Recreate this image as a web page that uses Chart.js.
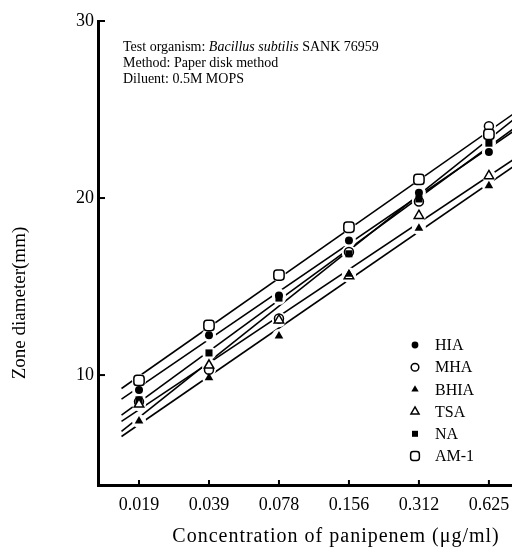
<!DOCTYPE html>
<html><head><meta charset="utf-8">
<script src="https://cdn.jsdelivr.net/npm/chart.js@4.4.1/dist/chart.umd.min.js"></script>
<style>html,body{margin:0;padding:0;background:#fff;overflow:hidden;}#wrap{width:512px;height:554px;position:relative;overflow:hidden;}canvas{display:block;}</style>
</head><body><div id="wrap"><canvas id="c"></canvas></div>
<script>
// ---- data ----
const concentrations = ['0.019', '0.039', '0.078', '0.156', '0.312', '0.625'];
const seriesNames = ['HIA', 'MHA', 'BHIA', 'TSA', 'NA', 'AM-1'];
const hia  = [9.15, 12.25, 14.5, 17.6, 20.3, 22.6];
const mha  = [8.5, 10.3, 13.2, 16.95, 19.8, 24.05];
const bhia = [7.4, 9.85, 12.2, 15.7, 18.3, 20.7];
const tsa  = [8.35, 10.55, 13.1, 15.6, 19.0, 21.25];
const na   = [8.6, 11.25, 14.35, 16.85, 19.95, 23.1];
const am1  = [9.7, 12.8, 15.65, 18.35, 21.05, 23.6];
// fitted lines: x position (in dilution steps) and values at both ends
const fitX    = [-0.25, 5.4];
const fitHIA  = [8.64, 23.90];
const fitMHA  = [6.82, 24.58];
const fitBHIA = [6.53, 21.92];
const fitTSA  = [7.38, 22.30];
const fitNA   = [7.74, 24.06];
const fitAM1  = [9.24, 24.89];
const yTicks = [10, 20, 30];

const seriesValues = [hia, mha, bhia, tsa, na, am1];
const fitValues = [fitHIA, fitMHA, fitBHIA, fitTSA, fitNA, fitAM1];
const styles = [
  {pointStyle:'circle', radius:4, fill:'#000', bw:0},
  {pointStyle:'circle', radius:4.5, fill:'#fff', bw:1.5},
  {pointStyle:'triangle', radius:5, fill:'#000', bw:0},
  {pointStyle:'triangle', radius:5.5, fill:'#fff', bw:1.5},
  {pointStyle:'rect', radius:5, fill:'#000', bw:0},
  {pointStyle:'rectRounded', radius:6, fill:'#fff', bw:1.5}
];

const datasets = [];
seriesValues.forEach((vals, s) => {
  const st = styles[s];
  const pts = vals.map((v, i) => ({x: i, y: v}));
  datasets.push({label: seriesNames[s], data: pts, showLine:false,
    pointStyle: st.pointStyle, pointRadius: st.radius, pointHoverRadius: st.radius,
    pointBackgroundColor: st.fill, pointBorderColor:'#000', pointBorderWidth: st.bw,
    order: s === 1 ? 1.5 : 1});
  datasets.push({label: seriesNames[s] + ' gap', data: pts, showLine:false,
    pointStyle:'circle', pointRadius: 7, pointBackgroundColor:'#fff', pointBorderWidth:0,
    order: 2});
  datasets.push({label: seriesNames[s] + ' fit', data: fitX.map((x, i) => ({x: x, y: fitValues[s][i]})),
    showLine:true, borderColor:'#000', borderWidth:1.6, pointRadius:0, order: 3});
});

const SERIF = '"Liberation Serif", "DejaVu Serif", serif';

const deco = {
  id: 'deco',
  afterDraw(chart) {
    const ctx = chart.ctx, xs = chart.scales.x, ys = chart.scales.y;
    ctx.save();
    ctx.strokeStyle = '#000'; ctx.fillStyle = '#000'; ctx.lineWidth = 2;
    yTicks.forEach(v => { const y = ys.getPixelForValue(v); ctx.beginPath(); ctx.moveTo(xs.left, y); ctx.lineTo(xs.left + 7, y); ctx.stroke(); });
    concentrations.forEach((c, i) => { const x = xs.getPixelForValue(i); ctx.beginPath(); ctx.moveTo(x, ys.bottom); ctx.lineTo(x, ys.bottom - 5); ctx.stroke(); });

    // annotation
    ctx.textBaseline = 'middle'; ctx.textAlign = 'left';
    let x = 123;
    ctx.font = '14px ' + SERIF;
    const t1 = 'Test organism: '; ctx.fillText(t1, x, 47); x += ctx.measureText(t1).width;
    ctx.font = 'italic 14px ' + SERIF;
    const t2 = 'Bacillus subtilis'; ctx.fillText(t2, x, 47); x += ctx.measureText(t2).width;
    ctx.font = '14px ' + SERIF;
    ctx.fillText(' SANK 76959', x, 47);
    ctx.fillText('Method: Paper disk method', 123, 63);
    ctx.fillText('Diluent: 0.5M MOPS', 123, 79);

    // legend
    ctx.font = '16px ' + SERIF;
    seriesNames.forEach((n, s) => {
      const y = 345 + s * 22.2;
      const st = styles[s];
      ctx.fillStyle = st.fill; ctx.strokeStyle = '#000'; ctx.lineWidth = st.bw;
      Chart.helpers.drawPoint(ctx, {pointStyle: st.pointStyle, radius: st.radius * 0.85, rotation: 0, borderWidth: st.bw}, 415, y);
      ctx.fillStyle = '#000';
      ctx.fillText(n, 435, y + 1);
    });

    // axis titles
    ctx.font = '20px ' + SERIF;
    ctx.textAlign = 'center';
    if ('letterSpacing' in ctx) ctx.letterSpacing = '1px';
    ctx.fillText('Concentration of panipenem (\u03bcg/ml)', 336, 537);
    if ('letterSpacing' in ctx) ctx.letterSpacing = '0px';
    ctx.translate(20, 303); ctx.rotate(-Math.PI / 2);
    ctx.font = '19px ' + SERIF;
    ctx.fillText('Zone diameter(mm)', 0, 0);
    ctx.restore();
  }
};

new Chart(document.getElementById('c'), {
  type: 'scatter',
  data: {datasets},
  plugins: [deco],
  options: {
    responsive: true, maintainAspectRatio: false, animation: false, devicePixelRatio: 1,
    layout: {autoPadding: false, padding: {top: 21, right: 0, left: 0, bottom: 0}},
    plugins: {legend: {display: false}, tooltip: {enabled: false}},
    scales: {
      x: {type: 'linear', min: -0.586, max: 5.33,
        grid: {display: false, drawTicks: false},
        border: {display: true, color: '#000', width: 3},
        afterBuildTicks: sc => { sc.ticks = concentrations.map((c, i) => ({value: i})); },
        afterFit: sc => { sc.height = 69; sc.paddingRight = 0; sc.paddingLeft = 0; },
        ticks: {autoSkip: false, maxRotation: 0, padding: 9, color: '#000',
          font: {family: SERIF, size: 18}, callback: v => concentrations[v]}
      },
      y: {type: 'linear', min: 3.79, max: 30,
        grid: {display: false, drawTicks: false},
        border: {display: true, color: '#000', width: 3},
        afterBuildTicks: sc => { sc.ticks = yTicks.map(v => ({value: v})); },
        afterFit: sc => { sc.width = 98; sc.paddingTop = 0; sc.paddingBottom = 0; },
        ticks: {padding: 4, color: '#000', font: {family: SERIF, size: 18}, callback: v => String(v)}
      }
    }
  }
});
</script></body></html>
